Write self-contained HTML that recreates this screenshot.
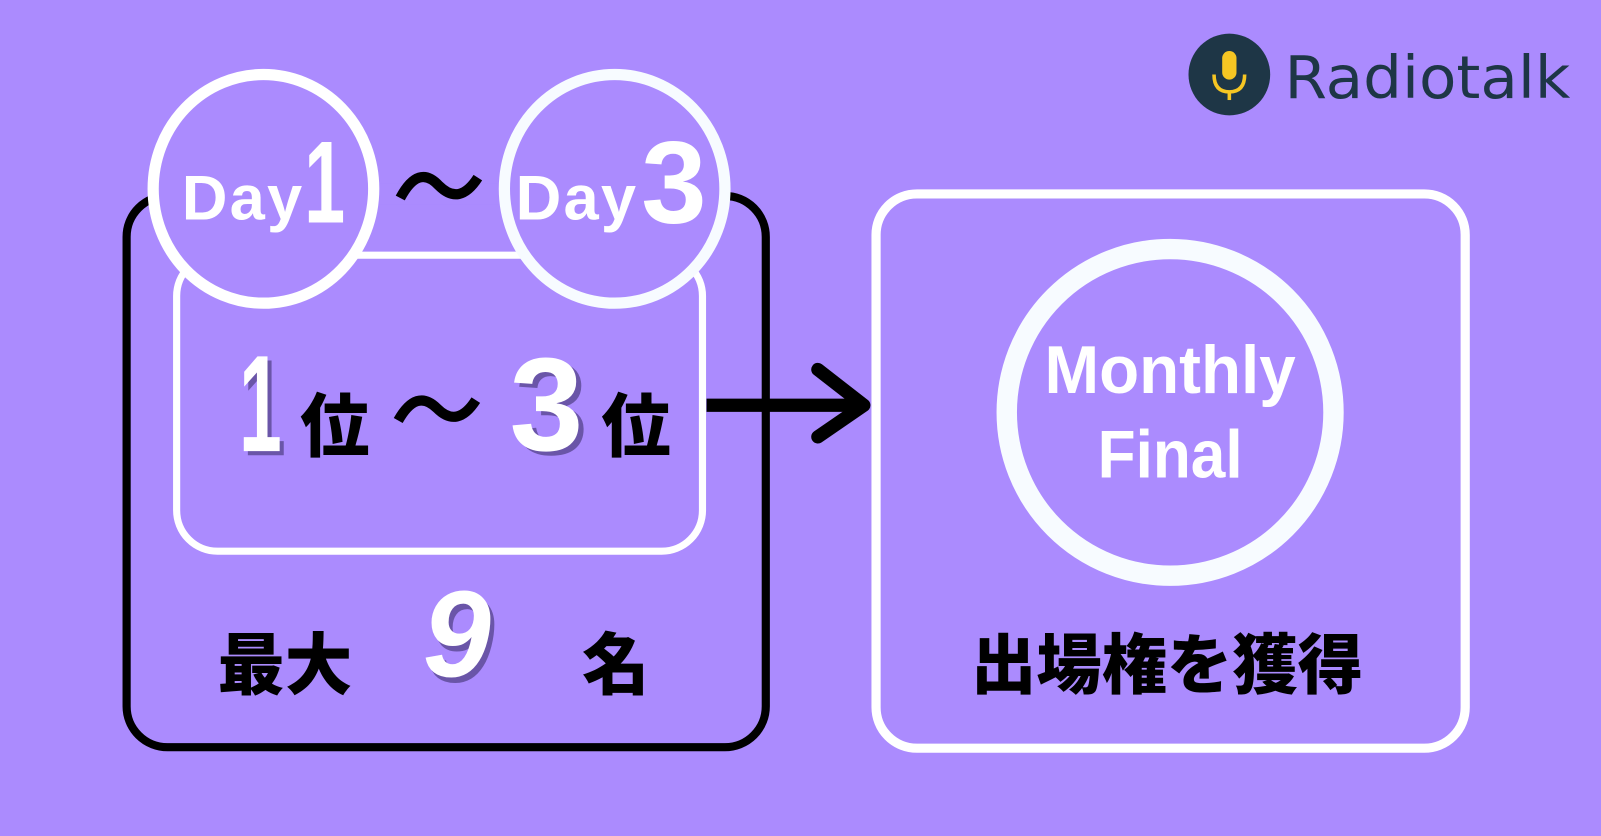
<!DOCTYPE html>
<html><head><meta charset="utf-8"><style>
html,body{margin:0;padding:0}
body{width:1601px;height:836px;background:#ab8bfe;overflow:hidden}
svg{display:block}
.j{font-family:"Liberation Sans","Noto Sans CJK JP",sans-serif;font-weight:900}
</style></head><body>
<svg width="1601" height="836" viewBox="0 0 1568 819" preserveAspectRatio="none">
<rect x="124" y="192" width="626" height="540" rx="40" fill="none" stroke="#000" stroke-width="8"/>
<rect x="360" y="180" width="140" height="20" fill="#ab8bfe"/>
<rect x="173" y="250" width="515" height="290" rx="40" fill="none" stroke="#fff" stroke-width="7"/>
<ellipse cx="258" cy="185" rx="108" ry="112" fill="#ab8bfe" stroke="#fff" stroke-width="11"/>
<ellipse cx="602" cy="185" rx="108" ry="112" fill="#ab8bfe" stroke="#f7fbff" stroke-width="11"/>
<text x="178" y="215" font-family="Liberation Sans,sans-serif" font-weight="bold" font-size="62" fill="#fff" textLength="118">Day</text>
<text x="298" y="218" font-family="Liberation Sans,sans-serif" font-weight="bold" font-size="115" fill="#fff" textLength="40" lengthAdjust="spacingAndGlyphs">1</text>
<text x="505" y="215" font-family="Liberation Sans,sans-serif" font-weight="bold" font-size="62" fill="#fff" textLength="118">Day</text>
<text x="628" y="218" font-family="Liberation Sans,sans-serif" font-weight="bold" font-size="115" fill="#fff">3</text>
<path d="M392 194 Q410 160 430 182 Q450 202 468 174" fill="none" stroke="#000" stroke-width="10"/>
<text x="238" y="446" font-family="Liberation Sans,sans-serif" font-weight="bold" font-size="135" fill="#6a55a8" textLength="42" lengthAdjust="spacingAndGlyphs">1</text>
<text x="234" y="442" font-family="Liberation Sans,sans-serif" font-weight="bold" font-size="135" fill="#fff" textLength="42" lengthAdjust="spacingAndGlyphs">1</text>
<text x="294" y="442" class="j" font-size="68" fill="#000">位</text>
<path d="M390 412 Q408 380 428 400 Q448 420 466 392" fill="none" stroke="#000" stroke-width="10"/>
<text x="504" y="445" font-family="Liberation Sans,sans-serif" font-weight="bold" font-size="130" fill="#6a55a8">3</text>
<text x="499" y="441" font-family="Liberation Sans,sans-serif" font-weight="bold" font-size="130" fill="#fff">3</text>
<text x="589" y="442" class="j" font-size="68" fill="#000">位</text>
<text x="213" y="675" class="j" font-size="66" fill="#000">最大</text>
<text x="418" y="668" font-family="Liberation Sans,sans-serif" font-weight="bold" font-size="120" font-style="italic" fill="#6a55a8">9</text>
<text x="414" y="663" font-family="Liberation Sans,sans-serif" font-weight="bold" font-size="120" font-style="italic" fill="#fff">9</text>
<text x="570" y="675" class="j" font-size="66" fill="#000">名</text>
<line x1="692" y1="397" x2="842" y2="397" stroke="#000" stroke-width="13"/>
<polyline points="801,362 846,397 801,428" fill="none" stroke="#000" stroke-width="13" stroke-linecap="round" stroke-linejoin="round"/>
<rect x="858" y="190" width="577" height="543" rx="40" fill="none" stroke="#fff" stroke-width="9"/>
<circle cx="1146" cy="404" r="160" fill="none" stroke="#f7fbff" stroke-width="20"/>
<text x="1146" y="385" text-anchor="middle" font-family="Liberation Sans,sans-serif" font-weight="bold" font-size="66" fill="#fff" textLength="246" lengthAdjust="spacingAndGlyphs">Monthly</text>
<text x="1146" y="468" text-anchor="middle" font-family="Liberation Sans,sans-serif" font-weight="bold" font-size="66" fill="#fff" textLength="142" lengthAdjust="spacingAndGlyphs">Final</text>
<text x="1143" y="674" text-anchor="middle" class="j" font-size="64" fill="#000">出場権を獲得</text>
<circle cx="1204" cy="73" r="40" fill="#1e3646"/>
<rect x="1197" y="50" width="14" height="28" rx="7" fill="#f6c623"/>
<path d="M1189 73 Q1189 90 1204 90 Q1219 90 1219 73" fill="none" stroke="#f6c623" stroke-width="3.5"/>
<line x1="1204" y1="90" x2="1204" y2="98" stroke="#f6c623" stroke-width="3.5"/>
<text x="1258" y="96" font-family="DejaVu Sans,sans-serif" font-size="58" fill="#1e3646" textLength="280" lengthAdjust="spacingAndGlyphs">Radiotalk</text>
</svg>
</body></html>
